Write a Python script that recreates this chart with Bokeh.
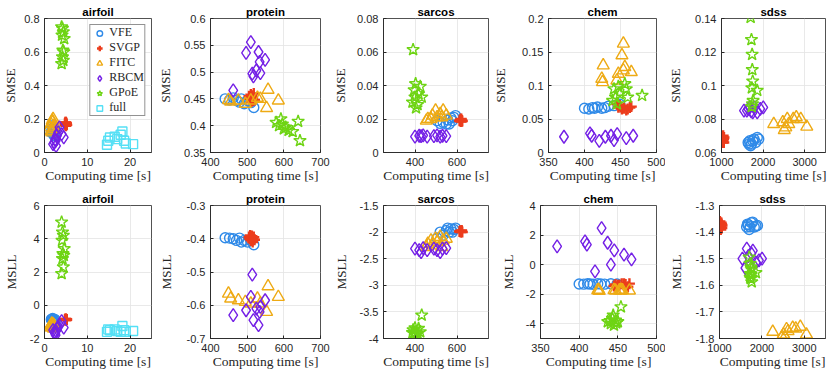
import math
from bokeh.plotting import figure
from bokeh.models import Range1d, FixedTicker, NumeralTickFormatter
from bokeh.layouts import row, column
from bokeh.embed import file_html
from bokeh.resources import INLINE

# ---------------- data ----------------
methods = ["VFE", "SVGP", "FITC", "RBCM", "GPoE", "full"]
datasets = ["airfoil", "protein", "sarcos", "chem", "sdss"]

# axis limits and ticks
airfoil_xlim = [0, 25];      airfoil_xticks = [0, 10, 20]
protein_xlim = [400, 700];   protein_xticks = [400, 500, 600, 700]
sarcos_xlim = [250, 750];    sarcos_xticks = [400, 600]
chem_xlim = [350, 500];      chem_xticks = [350, 400, 450, 500]
sdss_xlim = [1000, 3500];    sdss_xticks = [1000, 2000, 3000]

airfoil_smse_ylim = [0, 0.8];     airfoil_smse_yticks = [0, 0.2, 0.4, 0.6, 0.8]
protein_smse_ylim = [0.35, 0.6];  protein_smse_yticks = [0.35, 0.4, 0.45, 0.5, 0.55, 0.6]
sarcos_smse_ylim = [0, 0.08];     sarcos_smse_yticks = [0, 0.02, 0.04, 0.06, 0.08]
chem_smse_ylim = [0, 0.2];        chem_smse_yticks = [0, 0.05, 0.1, 0.15, 0.2]
sdss_smse_ylim = [0.06, 0.14];    sdss_smse_yticks = [0.06, 0.08, 0.1, 0.12, 0.14]

airfoil_msll_ylim = [-2, 6];      airfoil_msll_yticks = [-2, 0, 2, 4, 6]
protein_msll_ylim = [-0.7, -0.3]; protein_msll_yticks = [-0.7, -0.6, -0.5, -0.4, -0.3]
sarcos_msll_ylim = [-4, -1.5];    sarcos_msll_yticks = [-4, -3.5, -3, -2.5, -2, -1.5]
chem_msll_ylim = [-5, 4];         chem_msll_yticks = [-4, -2, 0, 2, 4]
sdss_msll_ylim = [-1.8, -1.3];    sdss_msll_yticks = [-1.8, -1.7, -1.6, -1.5, -1.4, -1.3]

# computing times [s]
airfoil_t = dict(
    VFE=[1.6, 1.8, 1.9, 2.0, 2.1, 2.2, 2.2, 2.3, 2.4, 2.5],
    SVGP=[4.8, 4.8, 4.9, 4.9, 5.0, 5.0, 5.0, 5.1, 5.1, 5.2],
    FITC=[1.3, 1.5, 1.6, 1.7, 1.8, 1.9, 2.0, 2.1, 2.2, 2.3],
    RBCM=[2.0, 2.3, 2.5, 2.6, 2.7, 2.9, 3.2, 3.5, 4.0, 4.5],
    GPoE=[4.0, 4.0, 4.1, 4.2, 4.2, 4.3, 4.4, 4.4, 4.5, 4.6],
    full=[14.6, 14.9, 15.3, 16.4, 17.0, 17.8, 18.2, 18.6, 19.0, 20.7],
)
airfoil_smse = dict(
    VFE=[0.12, 0.14, 0.16, 0.13, 0.11, 0.15, 0.12, 0.10, 0.13, 0.14],
    SVGP=[0.17, 0.175, 0.18, 0.165, 0.17, 0.16, 0.18, 0.17, 0.175, 0.165],
    FITC=[0.15, 0.17, 0.13, 0.12, 0.19, 0.18, 0.2, 0.14, 0.16, 0.15],
    RBCM=[0.05, 0.06, 0.08, 0.07, 0.04, 0.10, 0.12, 0.15, 0.11, 0.09],
    GPoE=[0.75, 0.53, 0.70, 0.74, 0.57, 0.61, 0.72, 0.55, 0.60, 0.68],
    full=[0.046, 0.07, 0.09, 0.094, 0.08, 0.106, 0.125, 0.07, 0.054, 0.05],
)
airfoil_msll = dict(
    VFE=[-0.85, -0.9, -0.8, -1.0, -0.95, -1.05, -0.9, -1.1, -0.85, -1.0],
    SVGP=[-0.85, -0.88, -0.82, -0.86, -0.84, -0.9, -0.83, -0.87, -0.85, -0.86],
    FITC=[-1.3, -1.2, -1.35, -1.1, -1.25, -1.3, -1.15, -1.4, -1.2, -1.3],
    RBCM=[-1.5, -1.6, -1.7, -1.8, -1.55, -1.4, -1.3, -1.2, -0.95, -1.35],
    GPoE=[5.0, 1.9, 3.9, 4.4, 2.8, 3.1, 4.2, 2.3, 3.0, 3.4],
    full=[-1.6, -1.45, -1.5, -1.45, -1.55, -1.6, -1.25, -1.5, -1.6, -1.55],
)
airfoil_t_msll = dict()

protein_t = dict(
    VFE=[440, 452, 462, 471, 479, 484, 492, 501, 510, 518],
    SVGP=[505, 507, 508, 510, 512, 513, 515, 516, 518, 520],
    FITC=[449, 455, 476, 495, 510, 528, 536, 553, 557, 585],
    RBCM=[462, 497, 510, 514, 517, 525, 531, 534, 536, 549],
    GPoE=[579, 587, 592, 596, 600, 605, 613, 624, 639, 644],
)
protein_smse = dict(
    VFE=[0.45, 0.448, 0.452, 0.447, 0.444, 0.45, 0.441, 0.447, 0.443, 0.434],
    SVGP=[0.455, 0.453, 0.45, 0.458, 0.445, 0.456, 0.452, 0.447, 0.46, 0.448],
    FITC=[0.448, 0.445, 0.447, 0.441, 0.447, 0.452, 0.45, 0.433, 0.467, 0.447],
    RBCM=[0.466, 0.536, 0.556, 0.497, 0.492, 0.503, 0.5375, 0.519, 0.498, 0.523],
    GPoE=[0.406, 0.40, 0.4125, 0.403, 0.394, 0.397, 0.391, 0.389, 0.408, 0.372],
)
protein_msll = dict(
    VFE=[-0.397, -0.398, -0.4, -0.405, -0.398, -0.41, -0.405, -0.41, -0.405, -0.418],
    SVGP=[-0.395, -0.40, -0.39, -0.405, -0.398, -0.392, -0.41, -0.40, -0.395, -0.403],
    FITC=[-0.565, -0.58, -0.585, -0.59, -0.595, -0.58, -0.595, -0.62, -0.543, -0.575],
    RBCM=[-0.63, -0.615, -0.575, -0.508, -0.645, -0.61, -0.66, -0.62, -0.605, -0.585],
)
protein_t_msll = dict()

sarcos_t = dict(
    VFE=[505, 520, 534, 549, 556, 563, 571, 578, 585, 593],
    SVGP=[612, 615, 617, 618, 619, 620, 621, 622, 623, 625],
    FITC=[454, 461, 476, 483, 498, 505, 520, 527, 534, 549],
    RBCM=[400, 420, 429, 439, 458, 490, 505, 520, 531, 549],
    GPoE=[388, 391, 396, 400, 403, 405, 412, 417, 425, 432],
)
sarcos_smse = dict(
    VFE=[0.019, 0.0174, 0.018, 0.017, 0.0194, 0.017, 0.0206, 0.019, 0.021, 0.022],
    SVGP=[0.019, 0.0195, 0.0192, 0.0185, 0.0198, 0.02, 0.0186, 0.019, 0.019, 0.0188],
    FITC=[0.019, 0.02, 0.02, 0.022, 0.025, 0.021, 0.023, 0.021, 0.025, 0.022],
    RBCM=[0.0095, 0.01, 0.0098, 0.0102, 0.0095, 0.0098, 0.0102, 0.0095, 0.01, 0.0098],
    GPoE=[0.030, 0.0614, 0.0374, 0.033, 0.041, 0.0266, 0.0286, 0.035, 0.0394, 0.033],
)
sarcos_msll = dict(
    VFE=[-2.11, -2.0, -2.06, -1.97, -1.925, -2.0, -1.94, -2.0, -1.95, -1.925],
    SVGP=[-1.99, -1.98, -1.985, -2.0, -1.995, -1.99, -1.98, -1.97, -1.99, -2.0],
    FITC=[-2.28, -2.22, -2.16, -2.25, -2.125, -2.19, -2.09, -2.28, -2.16, -2.125],
    RBCM=[-2.31, -2.34, -2.375, -2.3, -2.34, -2.31, -2.34, -2.375, -2.31, -2.3],
    GPoE=[-3.89, -3.84, -3.9, -3.8, -3.875, -3.94, -3.9, -3.81, -3.875, -3.56],
)
sarcos_t_msll = dict()

chem_t = dict(
    VFE=[400, 406, 411, 414, 418, 424, 428, 433, 441, 449],
    SVGP=[445, 447, 449, 450, 452, 455, 458, 460, 463, 465],
    FITC=[424, 425, 426, 445, 447, 452, 454, 454, 456, 465],
    RBCM=[371.5, 407.6, 410, 420.5, 429, 436.8, 441, 445.4, 458, 467.7],
    GPoE=[439, 441, 443, 445, 447, 449, 456, 458, 460, 480],
)
chem_smse = dict(
    VFE=[0.066, 0.065, 0.067, 0.066, 0.068, 0.066, 0.067, 0.069, 0.07, 0.072],
    SVGP=[0.0725, 0.0675, 0.07, 0.068, 0.065, 0.066, 0.0635, 0.065, 0.067, 0.0685],
    FITC=[0.11, 0.105, 0.13, 0.1075, 0.1175, 0.145, 0.1625, 0.1225, 0.1275, 0.12],
    RBCM=[0.0235, 0.0285, 0.025, 0.0175, 0.0235, 0.025, 0.0185, 0.0275, 0.0215, 0.025],
    GPoE=[0.0775, 0.095, 0.0825, 0.0725, 0.0985, 0.0875, 0.1025, 0.095, 0.0825, 0.085],
)
chem_msll = dict(
    VFE=[-1.31, -1.32, -1.3, -1.31, -1.33, -1.3, -1.31, -1.32, -1.3, -1.31],
    SVGP=[-1.45, -1.35, -1.5, -1.4, -1.4, -1.3, -1.29, -1.35, -1.5, -1.29],
    FITC=[-1.74, -1.7, -1.78, -1.72, -1.75, -1.74, -1.7, -1.76, -1.73, -1.75],
    RBCM=[1.23, 1.57, 1.35, -0.46, 2.47, 1.48, 0.0, 0.96, 0.67, 0.35],
    GPoE=[-3.87, -3.99, -3.65, -3.43, -4.1, -3.76, -3.87, -2.86, -3.95, -3.8],
)
chem_t_msll = dict(
    GPoE=[437, 441, 443, 444, 445, 447, 450, 454, 448, 440],
)

sdss_t = dict(
    VFE=[1640, 1660, 1680, 1700, 1720, 1750, 1780, 1820, 1860, 1895],
    SVGP=[1010, 1015, 1020, 1025, 1030, 1035, 1040, 1050, 1055, 1060],
    FITC=[2256, 2473, 2509, 2545, 2581, 2617, 2726, 2798, 2906, 3050],
    RBCM=[1540, 1610, 1643, 1680, 1715, 1751, 1787, 1859, 1931, 2004],
    GPoE=[1700, 1720, 1736, 1740, 1750, 1730, 1760, 1859, 1745, 1725],
)
sdss_smse = dict(
    VFE=[0.066, 0.065, 0.067, 0.064, 0.065, 0.067, 0.068, 0.066, 0.069, 0.068],
    SVGP=[0.069, 0.068, 0.067, 0.066, 0.068, 0.067, 0.070, 0.068, 0.066, 0.069],
    FITC=[0.077, 0.078, 0.0734, 0.075, 0.08, 0.077, 0.08, 0.081, 0.08, 0.0754],
    RBCM=[0.085, 0.085, 0.086, 0.087, 0.0846, 0.084, 0.087, 0.084, 0.086, 0.087],
    GPoE=[0.1406, 0.1274, 0.1186, 0.1094, 0.1026, 0.0986, 0.091, 0.097, 0.089, 0.0874],
)
sdss_msll = dict(
    VFE=[-1.381, -1.37, -1.3725, -1.39, -1.38, -1.365, -1.3625, -1.381, -1.3775, -1.375],
    SVGP=[-1.36, -1.37, -1.38, -1.375, -1.39, -1.38, -1.365, -1.37, -1.385, -1.375],
    FITC=[-1.775, -1.794, -1.785, -1.794, -1.765, -1.7725, -1.76, -1.7625, -1.756, -1.785],
    RBCM=[-1.5, -1.535, -1.4625, -1.49, -1.52, -1.48, -1.47, -1.515, -1.506, -1.5],
    GPoE=[-1.494, -1.519, -1.575, -1.531, -1.5375, -1.556, -1.5875, -1.5525, -1.56, -1.57],
)
sdss_t_msll = dict()

# ---------------- styles ----------------
method_colors = dict(VFE="#2f8ae8", SVGP="#ec3c1c", FITC="#eeaa14",
                     RBCM="#7420e6", GPoE="#6ed414", full="#55e0f5")
method_markers = dict(VFE="circle", SVGP="cross", FITC="triangle",
                      RBCM="diamond", GPoE="star", full="square")
method_sizes = dict(VFE=10, SVGP=11, FITC=12, RBCM=13, GPoE=13, full=9)
method_widths = dict(VFE=1.4, SVGP=2.4, FITC=1.4, RBCM=1.4, GPoE=1.4, full=1.4)

AX = "#262626"
GRID = "#e3e3e3"
SANS = "Liberation Sans"
SERIF = "Liberation Serif"

# fixed canvas sizes so that no panel pushes its neighbours
col_border_left = [36, 50, 43, 50, 44]
col_border_right = [4, 10, 2, 9, 2]
col_frame_w = [115, 115, 115, 116, 116]
col_width = [l + f + r for l, f, r in zip(col_border_left, col_frame_w, col_border_right)]
row_height = [187, 186]
ylabel_standoff = [[3, 8, 6, 11, 9], [8, 10, 8, 7, 9]]

G = globals()


def make_panel(ri, ci, ds):
    metric = ["smse", "msll"][ri]
    xlim = G[f"{ds}_xlim"]
    xticks = G[f"{ds}_xticks"]
    ylim = G[f"{ds}_{metric}_ylim"]
    yticks = G[f"{ds}_{metric}_yticks"]
    times = G[f"{ds}_t"]
    vals = G[f"{ds}_{metric}"]
    t_override = G[f"{ds}_t_msll"] if metric == "msll" else {}

    p = figure(width=col_width[ci], height=row_height[ri],
               x_range=Range1d(*xlim), y_range=Range1d(*ylim),
               min_border_left=col_border_left[ci], min_border_right=col_border_right[ci],
               min_border_top=18, min_border_bottom=35,
               output_backend="svg", toolbar_location=None,
               background_fill_color="white", border_fill_color="white")
    p.outline_line_color = AX
    p.outline_line_width = 0.8

    p.title.text = ds
    p.title.align = "center"
    p.title.text_font = SANS
    p.title.text_font_style = "bold"
    p.title.text_font_size = "11.5px"
    p.title.text_color = "black"
    p.title.standoff = 2
    p.title.offset = 0

    for ax in (p.xaxis[0], p.yaxis[0]):
        ax.axis_line_color = AX
        ax.axis_line_width = 0.8
        ax.major_tick_line_color = AX
        ax.major_tick_in = 3
        ax.major_tick_out = 0
        ax.minor_tick_line_color = None
        ax.major_label_text_font = SANS
        ax.major_label_text_font_size = "11px"
        ax.major_label_text_color = AX
        ax.formatter = NumeralTickFormatter(format="0.[00]")
        ax.axis_label_text_font = SERIF
        ax.axis_label_text_font_style = "normal"
        ax.axis_label_text_color = AX
    p.xaxis[0].ticker = FixedTicker(ticks=xticks)
    p.yaxis[0].ticker = FixedTicker(ticks=yticks)
    p.xaxis[0].major_label_standoff = 5
    p.yaxis[0].major_label_standoff = 5
    p.xaxis[0].axis_label = "Computing time [s]"
    p.xaxis[0].axis_label_text_font_size = "13.5px"
    p.xaxis[0].axis_label_standoff = -1
    p.yaxis[0].axis_label = metric.upper()
    p.yaxis[0].axis_label_text_font_size = "13px"
    p.yaxis[0].axis_label_standoff = ylabel_standoff[ri][ci]
    for g in (p.xgrid[0], p.ygrid[0]):
        g.grid_line_color = GRID
        g.grid_line_width = 0.8

    for m in methods:
        if m not in vals:
            continue
        xs = t_override.get(m, times[m])
        kw = dict(marker=method_markers[m], size=method_sizes[m],
                  line_color=method_colors[m], fill_color=None,
                  line_width=method_widths[m])
        if ri == 0 and ci == 0:
            kw["legend_label"] = m
        p.scatter(xs, vals[m], **kw)

    if ri == 0 and ci == 0:
        lg = p.legend[0]
        lg.location = "top_right"
        lg.margin = 6
        lg.padding = 0
        lg.spacing = 0
        lg.glyph_width = 18
        lg.glyph_height = 14
        lg.label_height = 14
        lg.label_standoff = 1
        lg.label_text_font = SERIF
        lg.label_text_font_size = "12px"
        lg.label_text_color = AX
        lg.border_line_color = AX
        lg.border_line_width = 0.8
        lg.background_fill_color = "white"
        lg.background_fill_alpha = 1.0
    return p


rows = []
for ri in range(2):
    rows.append(row([make_panel(ri, ci, ds) for ci, ds in enumerate(datasets)], spacing=0))
layout = column(rows, spacing=0)

open("out.html", "w").write(file_html(layout, INLINE))
